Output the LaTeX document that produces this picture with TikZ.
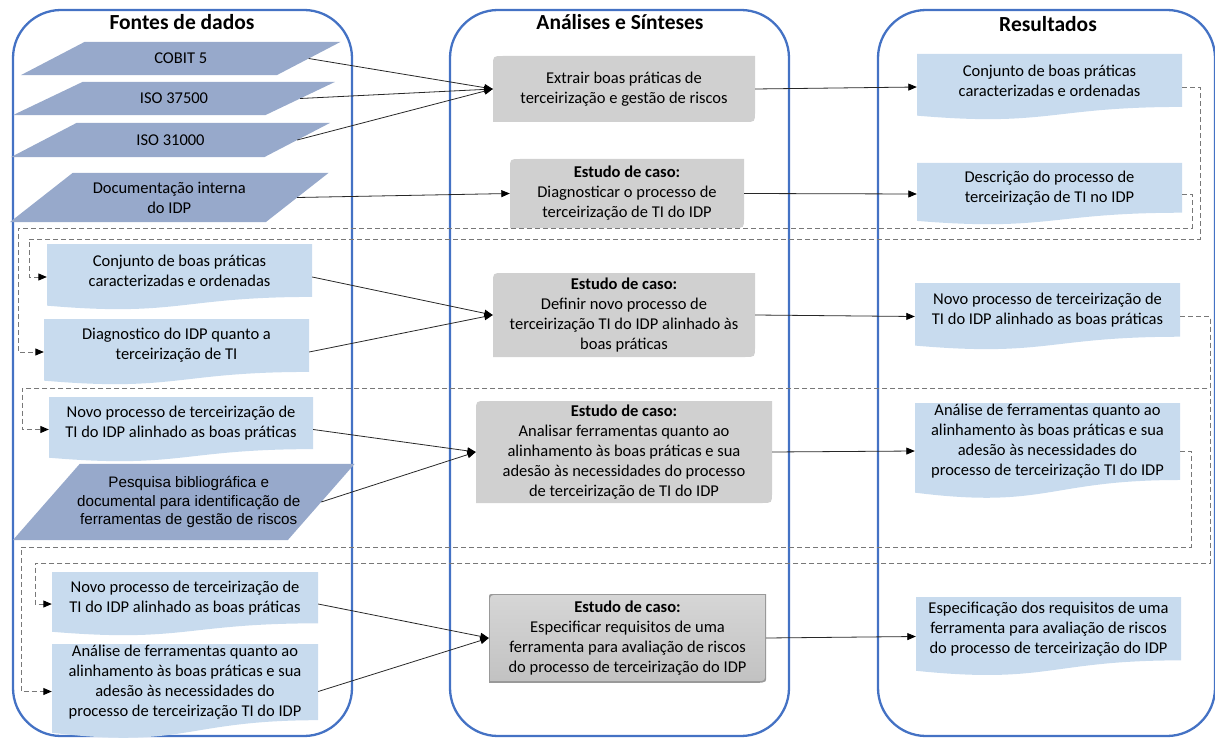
\documentclass[tikz,border=0pt]{standalone}
\usepackage{fontspec}
\setmainfont{Carlito}
\newfontfamily\arialf{Liberation Sans}
\usetikzlibrary{arrows.meta,calc}
\definecolor{colblue}{RGB}{68,114,196}
\definecolor{parafill}{RGB}{151,169,203}
\definecolor{docfill}{RGB}{200,219,238}
\definecolor{gfill}{RGB}{208,208,208}
\definecolor{dashgray}{RGB}{120,120,120}
\definecolor{linecol}{RGB}{40,40,40}

\tikzset{
  txt/.style={align=center, inner sep=0pt, font=\fontsize{16.5}{20}\selectfont},
  ptxt/.style={align=center, inner sep=0pt, xshift=5pt, font=\arialf\fontsize{15.2}{18.5}\selectfont},
  title/.style={inner sep=0pt, font=\fontsize{21.5}{24}\selectfont\bfseries},
  col/.style={draw=colblue, line width=2.3pt, rounded corners=48pt, inner sep=0pt},
  pbox/.style={rectangle, inner sep=0pt},
  docbox/.style={rectangle, inner sep=0pt, path picture={
    \fill[docfill] (path picture bounding box.north west) -- (path picture bounding box.north east)
      -- ($(path picture bounding box.north east)!0.802!(path picture bounding box.south east)$)
      .. controls ($(path picture bounding box.north)!0.802!(path picture bounding box.south)$)
      and ($(path picture bounding box.north)!1.107!(path picture bounding box.south)$)
      .. ($(path picture bounding box.north west)!0.934!(path picture bounding box.south west)$) -- cycle;}},
  gbox/.style={rectangle, inner sep=0pt, align=center, font=\fontsize{16.5}{20}\selectfont, path picture={
    \fill[gfill] (path picture bounding box.south west) -- ([yshift=-10pt]path picture bounding box.north west)
      .. controls (path picture bounding box.north west) .. ([xshift=10pt]path picture bounding box.north west)
      -- (path picture bounding box.north east) -- ([yshift=10pt]path picture bounding box.south east)
      .. controls (path picture bounding box.south east) .. ([xshift=-10pt]path picture bounding box.south east) -- cycle;}},
  gboxs/.style={rectangle, inner sep=0pt, align=center, font=\fontsize{16.5}{20}\selectfont, path picture={
    \shadedraw[top color=gray!32, bottom color=gray!48, draw=gray!80, line width=1.6pt] (path picture bounding box.south west) -- ([yshift=-10pt]path picture bounding box.north west)
      .. controls (path picture bounding box.north west) .. ([xshift=10pt]path picture bounding box.north west)
      -- (path picture bounding box.north east) -- ([yshift=10pt]path picture bounding box.south east)
      .. controls (path picture bounding box.south east) .. ([xshift=-10pt]path picture bounding box.south east) -- cycle;}},
  conn/.style={draw=linecol, line width=0.8pt, -{Triangle[length=8.5pt,width=7pt,color=black]}},
  dconn/.style={draw=dashgray, line width=0.9pt, dash pattern=on 5pt off 3pt, -{Triangle[length=8.5pt,width=7pt,color=black]}}
}

\newcommand\paranode[8]{%
  \node[pbox, minimum width=#4pt, minimum height=#5pt] (#1) at (#2,#3) {};
  \fill[parafill] ([xshift={#6pt/2}]#1.north west) -- ([xshift={#6pt/2}]#1.north east)
    -- ([xshift={-#6pt/2}]#1.south east) -- ([xshift={-#6pt/2}]#1.south west) -- cycle;
  \node[#7] (#1t) at (#1.center) {#8};}

\newcommand\docnode[6]{%
  \node[docbox, minimum width=#4pt, minimum height=#5pt] (#1) at (#2,#3) {};
  \node[txt] (#1t) at ([yshift={0.099*#5pt}]#1.center) {#6};}

\begin{document}
\begin{tikzpicture}[x=1pt,y=-1pt]
\useasboundingbox (0,0) rectangle (1215,738);

% columns
\node[col, minimum width=339pt, minimum height=726pt] (colL) at (182.5,373) {};
\node[col, minimum width=339pt, minimum height=726pt] (colM) at (619.5,373) {};
\node[col, minimum width=337pt, minimum height=726pt] (colR) at (1046.5,373) {};
\node[title] (tL) at (182,22) {Fontes de dados};
\node[title] (tM) at (620,22) {Análises e Sínteses};
\node[title] (tR) at (1048,24) {Resultados};

% data sources
\paranode{cobit}{180.75}{58.5}{255.5}{33}{64}{txt}{COBIT 5}
\paranode{isoA}{174}{98.5}{252}{33}{70}{txt}{ISO 37500}
\paranode{isoB}{170.5}{140}{253}{34}{66}{txt}{ISO 31000}
\paranode{docint}{169.25}{197.5}{255.5}{49}{63}{txt}{Documentação interna\\do IDP}
\paranode{pesq}{183.75}{502}{274.5}{76}{67}{ptxt}{Pesquisa bibliográfica e\\documental para identificação de\\ferramentas de gestão de riscos}

% left documents
\docnode{L1}{179.5}{277}{265}{66}{Conjunto de boas práticas\\caracterizadas e ordenadas}
\docnode{L2}{176.5}{352}{265}{66}{Diagnostico do IDP quanto a\\terceirização de TI}
\docnode{L3}{181}{429.5}{264}{65}{Novo processo de terceirização de\\TI do IDP alinhado as boas práticas}
\docnode{L4}{185}{604}{266}{64}{Novo processo de terceirização de\\TI do IDP alinhado as boas práticas}
\docnode{L5}{185}{691.5}{266}{95}{Análise de ferramentas quanto ao\\alinhamento às boas práticas e sua\\adesão às necessidades do\\processo de terceirização TI do IDP}

% process boxes
\node[gbox, minimum width=262pt, minimum height=66pt] (G1) at (624,89) {Extrair boas práticas de\\terceirização e gestão de riscos};
\node[gbox, minimum width=234pt, minimum height=69pt] (G2) at (627,193.5) {{\bfseries Estudo de caso:}\\Diagnosticar o processo de\\terceirização de TI do IDP};
\node[gbox, minimum width=262pt, minimum height=84pt] (G3) at (624,315) {{\bfseries Estudo de caso:}\\Definir novo processo de\\terceirização TI do IDP alinhado às\\boas práticas};
\node[gbox, minimum width=296pt, minimum height=102pt] (G4) at (624,452) {{\bfseries Estudo de caso:}\\Analisar ferramentas quanto ao\\alinhamento às boas práticas e sua\\adesão às necessidades do processo\\de terceirização de TI do IDP};
\node[gboxs, minimum width=277pt, minimum height=88pt] (G5) at (627.5,638) {{\bfseries Estudo de caso:}\\Especificar requisitos de uma\\ferramenta para avaliação de riscos\\do processo de terceirização do IDP};

% results
\docnode{R1}{1049.5}{87}{265}{66}{Conjunto de boas práticas\\caracterizadas e ordenadas}
\docnode{R2}{1049.5}{194}{265}{62}{Descrição do processo de\\terceirização de TI no IDP}
\docnode{R3}{1047.5}{316.5}{265}{67}{Novo processo de terceirização de\\TI do IDP alinhado as boas práticas}
\docnode{R4}{1047.5}{451}{265}{96}{Análise de ferramentas quanto ao\\alinhamento às boas práticas e sua\\adesão às necessidades do\\processo de terceirização TI do IDP}
\docnode{R5}{1048.5}{636.5}{265}{79}{Especificação dos requisitos de uma\\ferramenta para avaliação de riscos\\do processo de terceirização do IDP}

% solid connectors
\draw[conn] (cobit.east) -- (G1.west);
\draw[conn] (isoA.east) -- (G1.west);
\draw[conn] (isoB.east) -- (G1.west);
\draw[conn] (docint.east) -- (G2.west);
\draw[conn] (L1.east) -- (G3.west);
\draw[conn] (L2.east) -- (G3.west);
\draw[conn] (L3.east) -- (G4.west);
\draw[conn] (pesq.east) -- (G4.west);
\draw[conn] (L4.east) -- (G5.west);
\draw[conn] (L5.east) -- (G5.west);
\draw[conn] (G1.east) -- (R1.west);
\draw[conn] (G2.east) -- (R2.west);
\draw[conn] (G3.east) -- (R3.west);
\draw[conn] (G4.east) -- (R4.west);
\draw[conn] (G5.east) -- (R5.west);

% dashed feedback connectors
\draw[dconn] (R1.east) -| (1200,239) -- (29,239) |- (L1.west);
\draw[dconn] (R2.east) -| (1192,228) -- (18,228) |- (L2.west);
\draw[dconn] (R3.east) -| (1210,388) -- (22,388) |- (L3.west);
\draw[dconn] (R3.east) -| (1210,563) -- (35,563) |- (L4.west);
\draw[dconn] (R4.east) -| (1191,547) -- (21,547) |- (L5.west);
\end{tikzpicture}
\end{document}
